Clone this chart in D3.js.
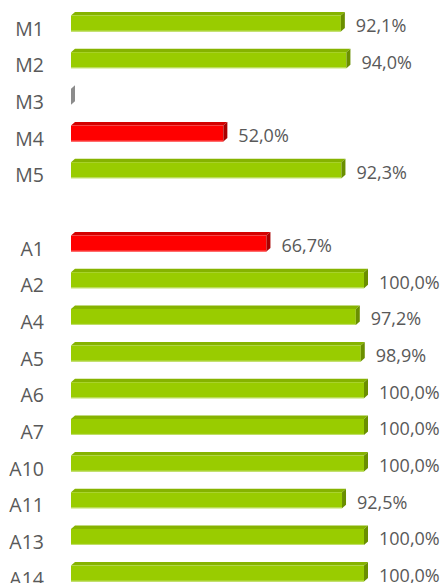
<!DOCTYPE html>
<html>
<head>
<meta charset="utf-8">
<script src="https://cdn.jsdelivr.net/npm/d3@7"></script>
<style>
  body { margin: 0; background: #fff; }
  svg { display: block; font-family: "Open Sans", sans-serif; }
</style>
</head>
<body>
<div id="vis1"></div>
<script>
// categories (the "" entry is the empty gap between the M and A groups)
const categories = ['M1', 'M2', 'M3', 'M4', 'M5', '', 'A1', 'A2', 'A4', 'A5', 'A6', 'A7', 'A10', 'A11', 'A13', 'A14'];
const values     = [92.1, 94.0, 0, 52.0, 92.3, null, 66.7, 100, 97.2, 98.9, 100, 100, 100, 92.5, 100, 100];

const width = 444, height = 583;
const depthX = 4, depthY = 3.5;

let data = categories.map((c, i) => ({ cat: c, key: c || 'gap', value: values[i] }))
let bars = data.filter(d => d.value !== null)

// colours: front, top, side
const palette = {
  green: ['#99cc00', '#86b300', '#6a8f00'],
  red:   ['#ff0000', '#d40000', '#a80000'],
  grey:  ['#999999', '#8a8a8a', '#8c8c8c']
}
const colorOf = v => v === 0 ? palette.grey : (v < 80 ? palette.red : palette.green)
const fmt = v => d3.format('.1f')(v).replace('.', ',') + '%'

let svg1 = d3.select('#vis1')
  .append('svg')
  .attr('width', width)
  .attr('height', height)

let y = d3.scaleBand()
  .domain(data.map(d => d.key))
  .range([5.2, 5.2 + 36.67 * 16])
  .paddingInner(0.5637)
  .paddingOuter(0.2818)

let x = d3.scaleLinear()
  .domain([0, 100])
  .range([71, 364])

let g = svg1.append('g')
  .selectAll('g')
  .data(bars)
  .join('g')

// top face
g.append('polygon')
  .attr('points', d => {
    let x0 = x(0), x1 = x(d.value), yt = y(d.key)
    return [[x0, yt], [x0 + depthX, yt - depthY], [x1 + depthX, yt - depthY], [x1, yt]].join(' ')
  })
  .attr('fill', d => colorOf(d.value)[1])

// front face
g.append('rect')
  .attr('x', x(0))
  .attr('y', d => y(d.key))
  .attr('width', d => x(d.value) - x(0))
  .attr('height', y.bandwidth())
  .attr('fill', d => colorOf(d.value)[0])

// light bottom edge
g.filter(d => d.value > 0).append('line')
  .attr('x1', x(0))
  .attr('x2', d => x(d.value))
  .attr('y1', d => y(d.key) + y.bandwidth() - 0.5)
  .attr('y2', d => y(d.key) + y.bandwidth() - 0.5)
  .attr('stroke', d => d.value < 80 ? '#ff6666' : '#c2e070')
  .attr('stroke-width', 1)

// side face
g.append('polygon')
  .attr('points', d => {
    let x1 = x(d.value), yt = y(d.key), yb = yt + y.bandwidth()
    return [[x1, yt], [x1 + depthX, yt - depthY], [x1 + depthX, yb - depthY], [x1, yb]].join(' ')
  })
  .attr('fill', d => colorOf(d.value)[2])

// value labels
g.filter(d => d.value > 0).append('text')
  .attr('x', d => x(d.value) + 15)
  .attr('y', d => y(d.key) + y.bandwidth() + 0.5)
  .attr('fill', '#595959')
  .style('font-size', '18px')
  .text(d => fmt(d.value))

// category labels
svg1.append('g')
  .selectAll('text')
  .data(data.filter(d => d.cat))
  .join('text')
    .attr('x', 44)
    .attr('y', d => y(d.key) + y.bandwidth() + 4)
    .attr('text-anchor', 'end')
    .attr('fill', '#595959')
    .style('font-size', '19.5px')
    .text(d => d.cat)
</script>
</body>
</html>
